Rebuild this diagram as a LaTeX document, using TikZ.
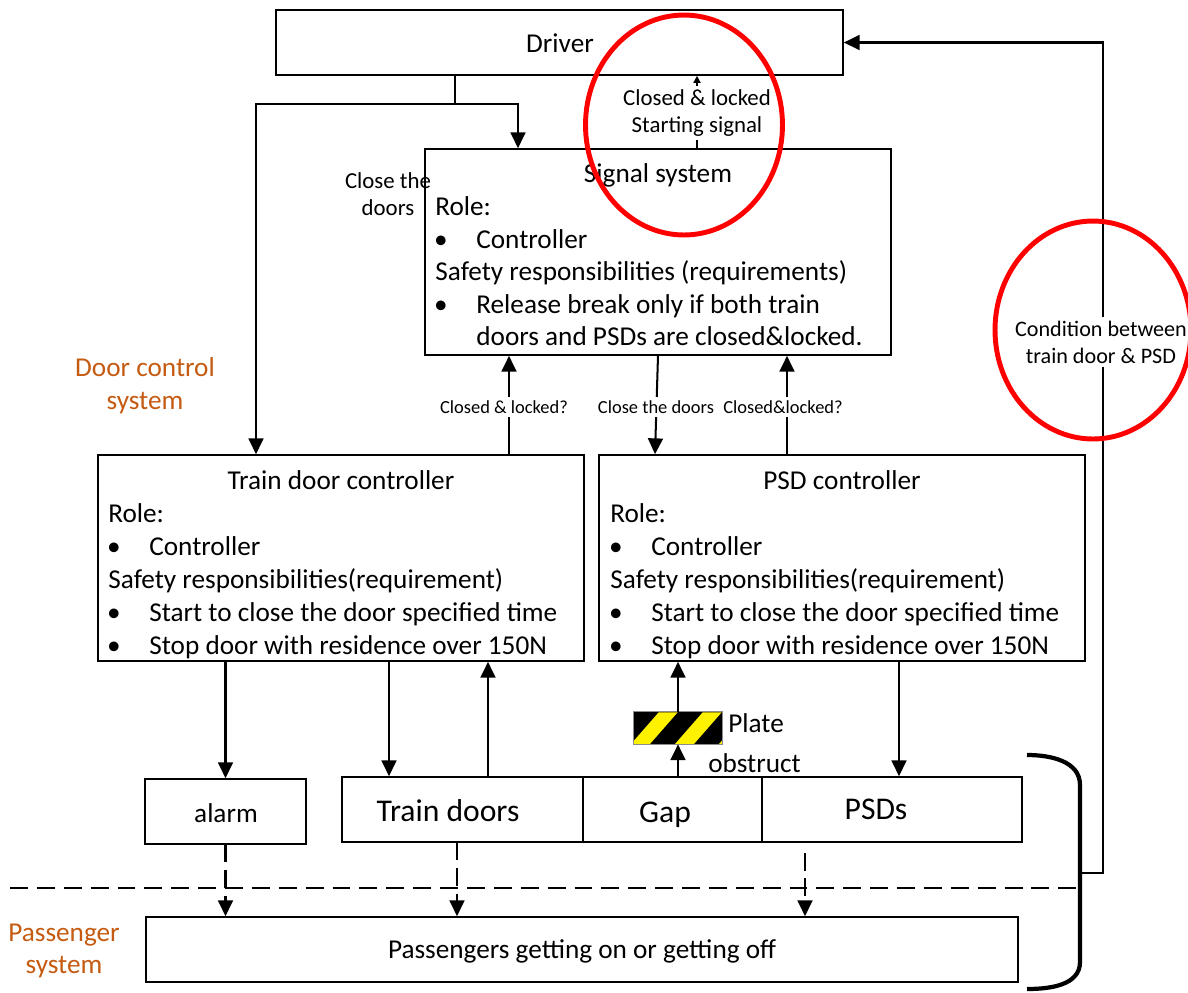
\documentclass[tikz,border=0pt]{standalone}
\usepackage{fontspec}
\setmainfont{Carlito}
\usetikzlibrary{arrows.meta,fit,calc}
\definecolor{sysorange}{HTML}{C55A11}
\definecolor{ringred}{HTML}{FF0000}
\definecolor{plateyellow}{HTML}{FFF200}

\begin{document}
\begin{tikzpicture}[x=0.02cm,y=-0.02cm,
  box/.style={draw=black, line width=0.95pt, inner sep=0pt, fill=white},
  body/.style={font=\fontsize{15.5}{18}\selectfont, inner sep=0pt, anchor=base west},
  ttl/.style={font=\fontsize{15.5}{18}\selectfont, inner sep=0pt, anchor=base},
  big/.style={font=\fontsize{18}{21}\selectfont, inner sep=0pt, anchor=base},
  flow/.style={line width=1.15pt, -{Triangle[length=9pt,width=8.5pt]}},
  smallflow/.style={line width=0.9pt, -{Triangle[length=4pt,width=4pt]}},
  pass/.style={flow, dash pattern=on 10pt off 4.5pt},
  tag/.style={font=\fontsize{10.5}{12}\selectfont, fill=white, inner sep=2pt},
  note/.style={font=\fontsize{13}{15.3}\selectfont, align=center, inner sep=2pt},
  group/.style={font=\fontsize{15.5}{18.7}\selectfont, text=sysorange, align=center, inner sep=0pt},
  ring/.style={draw=ringred, line width=2.8pt},
]
\useasboundingbox (0,0) rectangle (1188,992);

% ---------- boxes ----------
\node[box, fit={(276,10)(843,75)}] (driver) {};
\node[ttl] (driverT) at (560,52) {Driver};

\node[box, fit={(425,149)(891,355)}] (sig) {};
\node[ttl]  (sigT)  at (658,182) {Signal system};
\node[body] (sig1)  at (435,215) {Role:};
\node[ttl]  (sigB1) at (441,248) {•};
\node[body] (sig2)  at (476,248) {Controller};
\node[body] (sig3)  at (435,280) {Safety responsibilities (requirements)};
\node[ttl]  (sigB2) at (441,313) {•};
\node[body] (sig4)  at (476,313) {Release break only if both train};
\node[body] (sig5)  at (476,345) {doors and PSDs are closed\&locked.};

\node[box, fit={(98,455)(584,661)}] (tdc) {};
\node[ttl]  (tdcT)  at (341,489) {Train door controller};
\node[body] (tdc1)  at (108,522) {Role:};
\node[ttl]  (tdcB1) at (114,555) {•};
\node[body] (tdc2)  at (149,555) {Controller};
\node[body] (tdc3)  at (108,588) {Safety responsibilities(requirement)};
\node[ttl]  (tdcB2) at (114,621) {•};
\node[body] (tdc4)  at (149,621) {Start to close the door specified time};
\node[ttl]  (tdcB3) at (114,654) {•};
\node[body] (tdc5)  at (149,654) {Stop door with residence over 150N};

\node[box, fit={(599,455)(1085,661)}] (psdc) {};
\node[ttl]  (psdcT)  at (842,489) {PSD controller};
\node[body] (psdc1)  at (610,522) {Role:};
\node[ttl]  (psdcB1) at (616,555) {•};
\node[body] (psdc2)  at (651,555) {Controller};
\node[body] (psdc3)  at (610,588) {Safety responsibilities(requirement)};
\node[ttl]  (psdcB2) at (616,621) {•};
\node[body] (psdc4)  at (651,621) {Start to close the door specified time};
\node[ttl]  (psdcB3) at (616,654) {•};
\node[body] (psdc5)  at (651,654) {Stop door with residence over 150N};

\node[box, fit={(145,779)(306,844)}] (alarm) {};
\node[ttl] (alarmT) at (226,822) {alarm};

\node[box, fit={(342,777)(583,842)}]  (tdoors) {};
\node[box, fit={(583,777)(762,842)}]  (gap) {};
\node[box, fit={(762,777)(1022,842)}] (psds) {};
\node[big] (tdoorsT) at (448,821) {Train doors};
\node[big] (gapT)    at (665,822) {Gap};
\node[big] (psdsT)   at (876,819) {PSDs};

\node[box, fit={(146,917)(1018,982)}] (pax) {};
\node[ttl] (paxT) at (582,958) {Passengers getting on or getting off};

% ---------- hazard plate ----------
\node[inner sep=0pt, fit={(634,712)(722,744)}] (plate) {};
\begin{scope}
  \clip (plate.south west) rectangle (plate.north east);
  \fill[black] (plate.south west) rectangle (plate.north east);
  \foreach \s in {-47,-3,41,85}
    \fill[plateyellow] ($(plate.south west)+(\s,0)$) -- ++(19,0) -- ++(28,-32) -- ++(-19,0) -- cycle;
\end{scope}
\draw[black!45, line width=0.5pt] (plate.south west) rectangle (plate.north east);
\node[body] (plateT1) at (728,732) {Plate};
\node[body] (plateT2) at (708,772) {obstruct};

% ---------- group labels ----------
\node[group] (doorsys) at (145,386) {Door control\\system};
\node[group] (paxsys)  at (64,951) {Passenger\\system};

% ---------- helper x positions ----------
\coordinate (j)   at (455,104);
\coordinate (xa)  at (256,0);
\coordinate (xb)  at (518,0);
\coordinate (xc)  at (697,0);
\coordinate (xd)  at (509,0);
\coordinate (xe)  at (658,0);
\coordinate (xf)  at (655,0);
\coordinate (xg)  at (787,0);
\coordinate (xi)  at (389,0);
\coordinate (xj)  at (488,0);
\coordinate (xk)  at (899,0);
\coordinate (xl)  at (457,0);
\coordinate (xm)  at (805,0);
\coordinate (psdsgap) at (805,853);
\coordinate (xfb) at (1103,0);

% ---------- connectors ----------
\draw[line width=1.15pt] (driver.south -| j) -- (j);
\draw[flow] (j) -| (xa |- tdc.north);
\draw[flow] (j) -| (xb |- sig.north);

\draw[smallflow] (xc |- sig.north) -- (xc |- driver.south);
\node[note, fill=white] (startsig) at (697,113) {Closed \& locked\\Starting signal};

\node[note] (closecmd) at (388,194) {Close the\\doors};

\draw[flow] (xd |- tdc.north) -- (xd |- sig.south);
\node[tag] (tagA) at (504,407) {Closed \& locked?};
\draw[flow] (xe |- sig.south) -- (xf |- psdc.north);
\node[tag] (tagB) at (656,407) {Close the doors};
\draw[flow] (xg |- psdc.north) -- (xg |- sig.south);
\node[tag] (tagC) at (783,407) {Closed\&locked?};

\draw[flow] (tdc.south -| alarm.north) -- (alarm.north);
\draw[flow] (xi |- tdc.south) -- (xi |- tdoors.north);
\draw[flow] (xj |- tdoors.north) -- (xj |- tdc.south);
\draw[flow] (gap.north -| plate.south) -- (plate.south);
\draw[flow] (plate.north) -- (plate.north |- psdc.south);
\draw[flow] (xk |- psdc.south) -- (xk |- psds.north);

% boundary between the two systems
\coordinate (dl) at (10,888);
\coordinate (dr) at (1079,888);
\draw[line width=1.15pt, dash pattern=on 10.2pt off 5.1pt] (dl) -- (dr);

\draw[pass] (alarm.south) -- (alarm.south |- pax.north);
\draw[pass] (xl |- tdoors.south) -- (xl |- pax.north);
\draw[pass] (psdsgap) -- (xm |- pax.north);

% brace around the physical doors and passengers
\coordinate (br1) at (1027,755);
\coordinate (br2) at (1027,989);
\draw[line width=2.4pt] (br1) to[out=0,in=90] (1080,785) -- (1080,962) to[out=-90,in=0] (br2);

% feedback to the driver
\coordinate (fb) at (1080,873);
\draw[flow] (fb) -| (xfb |- driver.east) -- (driver.east);
\node[note, fill=white, font=\fontsize{12.6}{15.3}\selectfont] (cond) at (1101,342) {Condition between\\train door \& PSD};

% ---------- highlight rings ----------
\draw[ring] (684,125) ellipse [x radius=1.97cm, y radius=2.2cm];
\draw[ring] (1093,330) ellipse [x radius=1.96cm, y radius=2.18cm];
\end{tikzpicture}
\end{document}
